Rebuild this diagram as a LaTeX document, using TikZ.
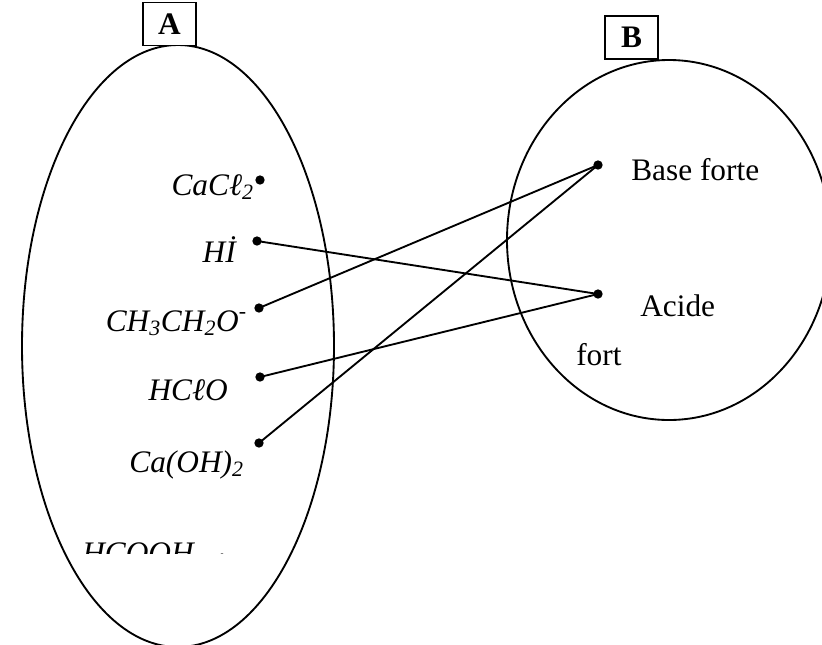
\documentclass[tikz,border=0pt]{standalone}
\usepackage{fontspec}
\setmainfont{Liberation Serif}
\begin{document}
\begin{tikzpicture}[x=0.75pt,y=-0.75pt,
  outline/.style={line width=1.4pt},
  link/.style={line width=1.4pt},
  pt/.style={circle,fill=black,inner sep=0pt,minimum size=7pt},
  formula/.style={font=\fontsize{23.5}{27}\selectfont\itshape,inner sep=0pt},
  word/.style={font=\fontsize{23.5}{27}\selectfont,inner sep=0pt},
  tag/.style={draw,line width=1.1pt,minimum width=39.75pt,minimum height=32pt,inner sep=0pt,font=\fontsize{23.5}{27}\selectfont\bfseries}]
\useasboundingbox (0,0) rectangle (822,644);
\clip (0,0) rectangle (822,644);

% the two sets
\draw[outline] (178,346) ellipse [x radius=156, y radius=301];
\draw[outline] (669,240) ellipse [x radius=162, y radius=180];

% set labels
\node[tag,fill=white] (tagA) at (169.5,24) {A};
\node[tag,fill=white] (tagB) at (631.5,37.5) {B};

% elements of A
\node[formula,anchor=base east] (cacl) at (254,195) {CaCℓ\textsubscript{2}};
\node[formula,anchor=base east] (hi) at (236,262) {Hİ};
\node[formula,anchor=base east] (eth) at (247,331) {CH\textsubscript{3}CH\textsubscript{2}O\textsuperscript{-}};
\node[formula,anchor=base east] (hclo) at (228,400) {HCℓO};
\node[formula,anchor=base east] (caoh) at (244,472) {Ca(OH)\textsubscript{2}};

\node[pt] (p1) at (260,180) {};
\node[pt] (p2) at (257,241) {};
\node[pt] (p3) at (259,308) {};
\node[pt] (p4) at (260,377) {};
\node[pt] (p5) at (259,443) {};

% last element, cut off by its text frame
\begin{scope}
  \clip (60,520) rectangle (260,553.5);
  \node[formula,anchor=base west] (hcooh) at (82,563) {HCOOH};
  \node[pt] (p6) at (222,558) {};
\end{scope}

% elements of B
\node[word,anchor=base west] (base) at (631,180) {Base forte};
\node[word,anchor=base west] (acide) at (640,316) {Acide};
\node[word,anchor=base west] (fort) at (576,365) {fort};

\node[pt] (q1) at (598,165) {};
\node[pt] (q2) at (598,294) {};

% correspondences
\draw[link] (p2.center) -- (q2.center);
\draw[link] (p3.center) -- (q1.center);
\draw[link] (p4.center) -- (q2.center);
\draw[link] (p5.center) -- (q1.center);
\end{tikzpicture}
\end{document}
